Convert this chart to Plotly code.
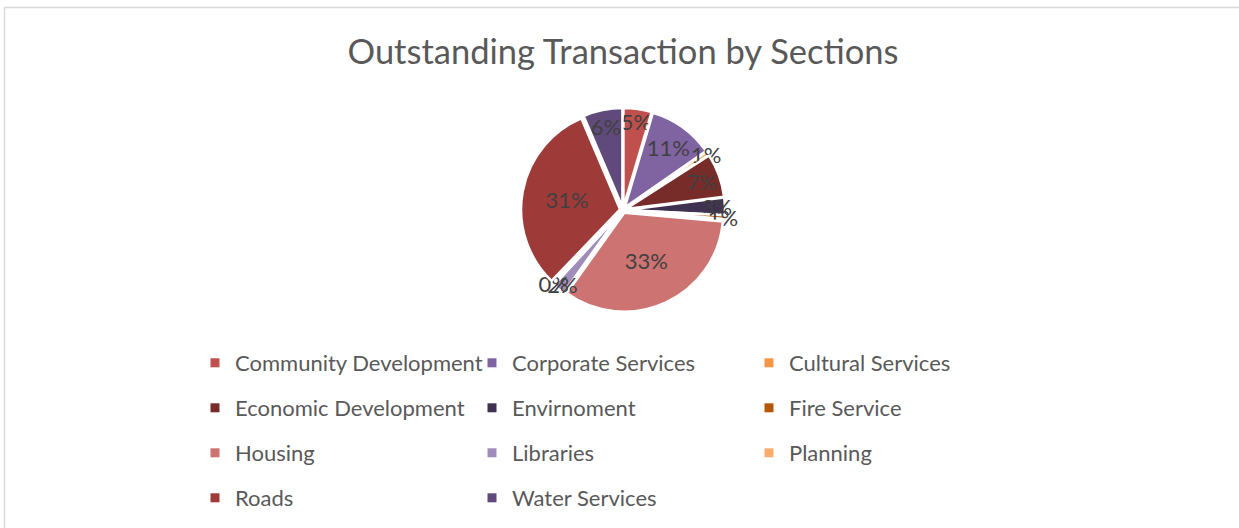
import plotly.graph_objects as go

# ---- data ----
sections = ["Community Development", "Corporate Services", "Cultural Services",
            "Economic Development", "Envirnoment", "Fire Service",
            "Housing", "Libraries", "Planning", "Roads", "Water Services"]
share_pct = [4.6, 10.7, 0.6, 7.1, 2.8, 0.6, 33.4, 2.0, 0.3, 31.4, 6.4]
colors = ["#C0504D", "#8064A2", "#F79646", "#772C2A", "#3F3151", "#B65708",
          "#CD7371", "#A08CBA", "#F9AC6D", "#9E3A38", "#5F4A7B"]
title_text = "Outstanding Transaction by Sections"

W, H = 1239, 528
FONT = "Lato, 'Open Sans', sans-serif"

fig = go.Figure()

# pie (centre ~ (623,210), outer radius ~102 px)
cx, cy, R = 623, 210, 102
fig.add_trace(go.Pie(
    labels=sections, values=share_pct, sort=False, direction="clockwise", rotation=0,
    marker=dict(colors=colors, line=dict(color="white", width=2.5)),
    pull=[0.03] * len(sections),
    texttemplate="%{percent:.0%}", textposition="inside",
    insidetextorientation="horizontal",
    textfont=dict(family=FONT, size=22, color="#404040"),
    domain=dict(x=[(cx - R) / W, (cx + R) / W], y=[(H - cy - R) / H, (H - cy + R) / H]),
    showlegend=False, hoverinfo="label+percent",
))

# legend rows (3 columns, row-major), one legend per row for Excel-like spacing
legend_names = ["legend", "legend2", "legend3", "legend4"]
row_y = [363, 408, 453, 498]
for i, (name, c) in enumerate(zip(sections, colors)):
    fig.add_trace(go.Scatter(
        x=[None], y=[None], mode="markers", name=name,
        marker=dict(symbol="square", size=9, color=c),
        legend=legend_names[i // 3], showlegend=True, hoverinfo="skip",
    ))

leg_common = dict(orientation="h", xanchor="left", yanchor="middle",
                  entrywidth=232, entrywidthmode="pixels",
                  font=dict(family=FONT, size=22, color="#595959"),
                  bgcolor="rgba(0,0,0,0)", itemclick=False, itemdoubleclick=False)
legend_x = 195 / W
layout_legends = {}
for k, ln in enumerate(legend_names):
    layout_legends[ln] = dict(leg_common, x=legend_x, y=1 - row_y[k] / H)

fig.update_layout(
    width=W, height=H,
    margin=dict(l=0, r=0, t=0, b=0),
    paper_bgcolor="white", plot_bgcolor="white",
    title=dict(text=title_text, x=623 / W, xref="container", xanchor="center",
               y=1 - 52 / H, yref="container", yanchor="middle",
               font=dict(family=FONT, size=34.5, color="#595959")),
    xaxis=dict(visible=False), yaxis=dict(visible=False),
    uniformtext=dict(minsize=22, mode="show"),
    shapes=[
        dict(type="line", xref="paper", yref="paper", x0=4.5 / W, x1=4.5 / W, y0=0, y1=1 - 7.5 / H,
             line=dict(color="#D9D9D9", width=1.5)),
        dict(type="line", xref="paper", yref="paper", x0=4.5 / W, x1=1, y0=1 - 7.5 / H, y1=1 - 7.5 / H,
             line=dict(color="#D9D9D9", width=1.5)),
    ],
    **layout_legends,
)

fig.write_html("out.html", config={"displayModeBar": False},
               post_script="document.body.style.margin='0';document.body.style.overflow='hidden';")
